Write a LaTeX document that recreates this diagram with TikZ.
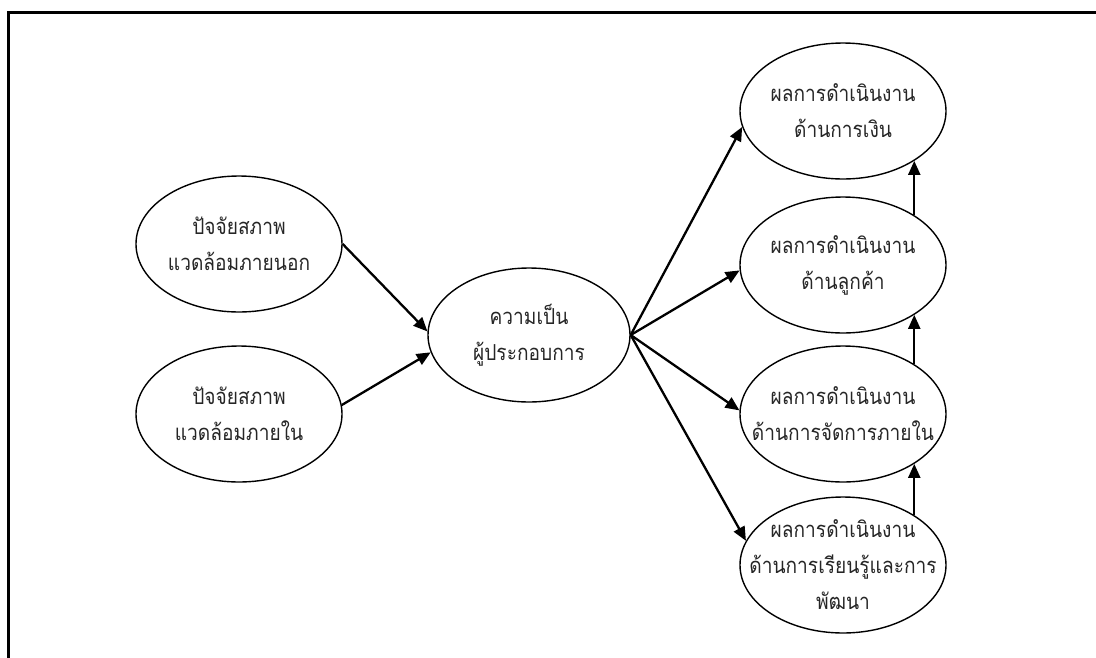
\documentclass[tikz,border=0pt]{standalone}
\usepackage{fontspec}
\usetikzlibrary{arrows.meta,shapes.geometric}
\newfontfamily\thaifont[Script=Thai,FakeStretch=0.87]{Loma}
\begin{document}
\begin{tikzpicture}[x=1pt,y=-1pt,
  oval/.style={draw, ellipse, line width=1.4pt, minimum width=206pt, minimum height=136pt, inner sep=0pt},
  txt/.style={align=center, font=\thaifont\fontsize{22}{36}\selectfont, inner sep=0pt, text=black!85},
  arr/.style={line width=2.3pt, -{Triangle[length=14pt,width=12pt]}},
  frame/.style={line width=3pt}]
\useasboundingbox (0,0) rectangle (1096,657);
% frame
\coordinate (fa) at (8,660);
\coordinate (fb) at (8,12);
\coordinate (fc) at (1100,12);
\draw[frame] (fa) -- (fb) -- (fc);
% nodes
\node[oval] (l1) at (239,244) {};
\node[txt] (l1t) at (l1) {ปัจจัยสภาพ\\แวดล้อมภายนอก};
\node[oval] (l2) at (239,414) {};
\node[txt] (l2t) at (l2) {ปัจจัยสภาพ\\แวดล้อมภายใน};
\node[oval, minimum width=202pt, minimum height=134pt] (c) at (529,335) {};
\node[txt] (ct) at (c) {ความเป็น\\ผู้ประกอบการ};
\node[oval] (r1) at (843,111) {};
\node[txt] (r1t) at (r1) {ผลการดำเนินงาน\\ด้านการเงิน};
\node[oval] (r2) at (843,265) {};
\node[txt] (r2t) at (r2) {ผลการดำเนินงาน\\ด้านลูกค้า};
\node[oval] (r3) at (843,414) {};
\node[txt] (r3t) at (r3) {ผลการดำเนินงาน\\ด้านการจัดการภายใน};
\node[oval] (r4) at (843,565) {};
\node[txt] (r4t) at (r4) {ผลการดำเนินงาน\\ด้านการเรียนรู้และการ\\พัฒนา};
% connectors
\draw[arr] (l1.east) -- (c.178);
\draw[arr] (l2.5) -- (c.190);
\draw[arr] (c.east) -- (r1.189);
\draw[arr] (c.east) -- (r2.183);
\draw[arr] (c.east) -- (r3.178);
\draw[arr] (c.east) -- (r4.166);
\draw[arr] (r2.35) -- (r1.-35);
\draw[arr] (r3.35) -- (r2.-35);
\draw[arr] (r4.35) -- (r3.-35);
\end{tikzpicture}
\end{document}
